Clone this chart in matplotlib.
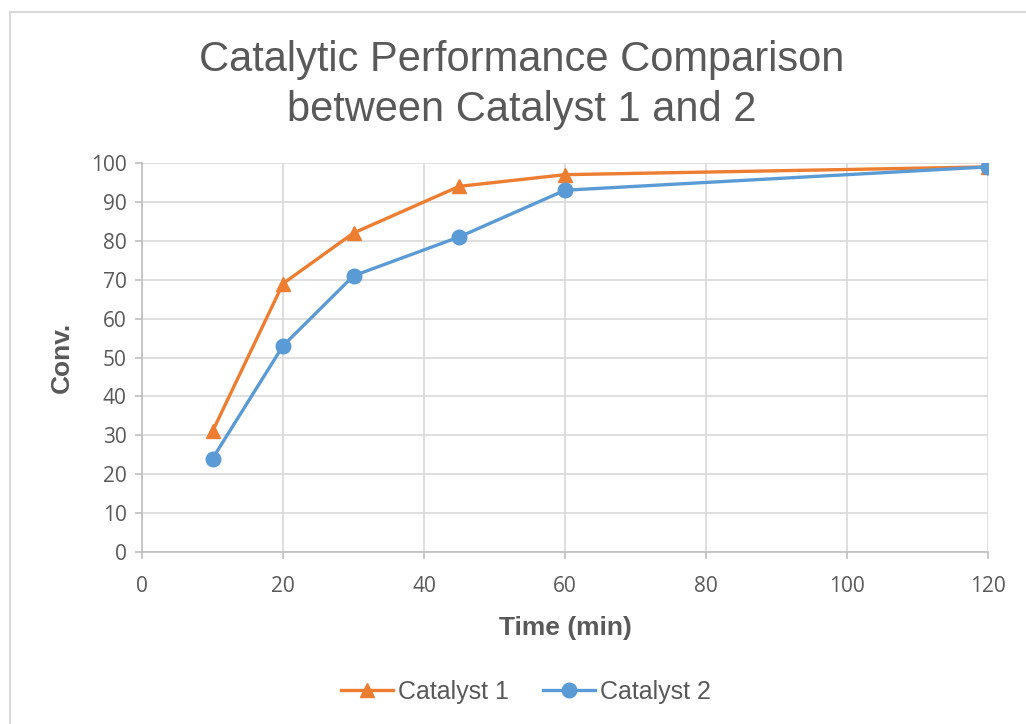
import matplotlib
matplotlib.use("Agg")
import matplotlib.pyplot as plt
from matplotlib.patches import Rectangle

# Data
time_min = [10, 20, 30, 45, 60, 120]
cat1 = [31, 69, 82, 94, 97, 99]
cat2 = [24, 53, 71, 81, 93, 99]
series_names = ["Catalyst 1", "Catalyst 2"]
x_ticks = [0, 20, 40, 60, 80, 100, 120]
y_ticks = [0, 10, 20, 30, 40, 50, 60, 70, 80, 90, 100]

orange = "#ED7D31"
blue = "#5B9BD5"
grey_txt = "#595959"
grid_c = "#D9D9D9"

fig = plt.figure(figsize=(10.26, 7.24), dpi=100)
ax = fig.add_axes([142/1026, 1-552/724, (988-142)/1026, (552-163)/724])

# outer chart border
fig.patches.append(Rectangle((10/1026, -0.1), 1.2, 1 - 12/724 + 0.1, transform=fig.transFigure,
                             fill=False, edgecolor="#D9D9D9", linewidth=1.5))

ax.plot(time_min, cat1, color=orange, lw=2.4, marker="^", ms=10, label=series_names[0], zorder=3)
ax.plot(time_min, cat2, color=blue, lw=2.4, marker="o", ms=10.5, label=series_names[1], zorder=4)

ax.set_xlim(0, 120)
ax.set_ylim(0, 100)
ax.set_xticks(x_ticks)
ax.set_yticks(y_ticks)
ax.grid(True, color=grid_c, lw=1.2)
ax.set_axisbelow(True)
for s in ["top", "right"]:
    ax.spines[s].set_visible(False)
for s in ["left", "bottom"]:
    ax.spines[s].set_color("#BFBFBF")
    ax.spines[s].set_linewidth(1.2)
ax.tick_params(axis="both", direction="out", length=5, color="#BFBFBF", width=1.2,
               labelcolor=grey_txt, labelsize=15, pad=6)
for lab in ax.get_xticklabels() + ax.get_yticklabels():
    lab.set_family("Open Sans")
ax.tick_params(axis="x", pad=12)

ax.set_xlabel("Time (min)", family="Liberation Sans", fontsize=19, fontweight="bold",
              color=grey_txt, labelpad=14)
ax.set_ylabel("Conv.", family="Liberation Sans", fontsize=19, fontweight="bold",
              color=grey_txt, labelpad=12)

fig.text(522/1026, 1-85/724, "Catalytic Performance Comparison\nbetween Catalyst 1 and 2",
         ha="center", va="center", family="Liberation Sans", fontsize=30, color=grey_txt,
         linespacing=1.35)

leg = fig.legend(loc="center", bbox_to_anchor=(526/1026, 1-692/724), ncol=2, frameon=False,
                 prop={"family": "Liberation Sans", "size": 18}, handlelength=2.1,
                 handletextpad=0.2, columnspacing=1.35, labelcolor=grey_txt)

fig.savefig("out.png", dpi=100)
